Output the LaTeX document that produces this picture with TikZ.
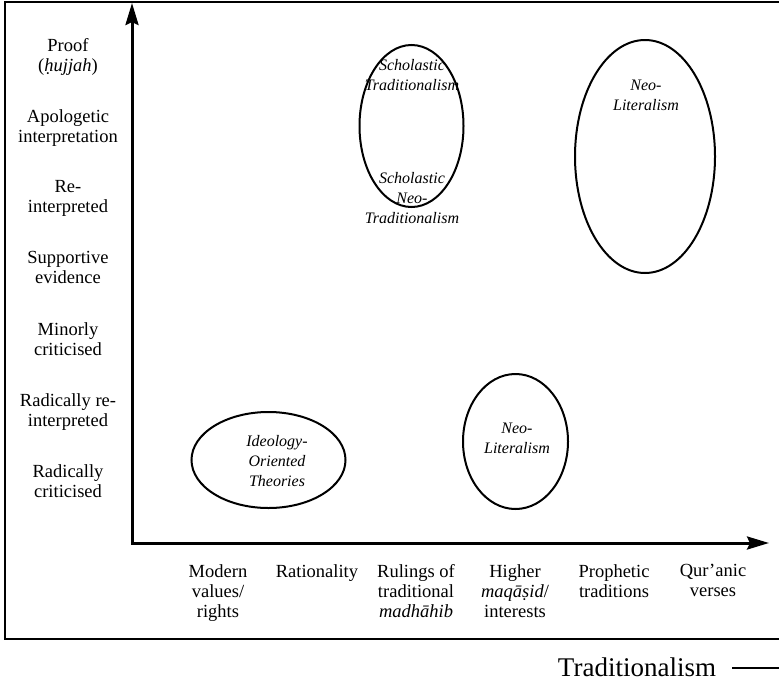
\documentclass[tikz,border=0pt]{standalone}
\usepackage{fontspec}
\setmainfont{Liberation Serif}
\usetikzlibrary{arrows.meta}

\begin{document}
\begin{tikzpicture}[x=1pt, y=-1pt,
    lab/.style={align=center, anchor=north, inner sep=0pt, font=\fontsize{18.5}{20}\selectfont},
    ovallab/.style={align=center, anchor=north, inner sep=0pt, font=\fontsize{16}{20}\selectfont\itshape},
    oval/.style={line width=2pt},
    axis/.style={line width=3pt, {Stealth[length=22pt,width=13pt,inset=3pt]}-{Stealth[length=22pt,width=13pt,inset=3pt]}}]
	\useasboundingbox (0,0) rectangle (779,683);
	% Rahmen
	\draw[line width=2.5pt] (779,2) -- (5,2) -- (5,639) -- (779,639);
	
	% Achsen
	\coordinate (O) at (132,543);
	\coordinate (ytip) at (132,3);
	\coordinate (xtip) at (769,543);
	\draw[axis] (ytip) -- (O) -- (xtip);
	
	% y-Beschriftung
	\foreach \lab [count=\i from 0] in {{Proof\\(\textit{\d{h}ujjah})}, {Apologetic\\interpretation}, {Re-\\interpreted}, {Supportive\\evidence}, {Minorly\\criticised}, {Radically re-\\interpreted}, {Radically\\criticised}}
		\node[lab] (y\i) at (68,38+71*\i) {\lab};
	
	% x-Beschriftung
	\foreach \lab [count=\i from 0] in {{Modern\\values/\\rights}, {Rationality}, {Rulings of\\traditional\\\textit{madh\=ahib}}, {Higher\\\textit{maq\=a\d{s}id}/\\interests}, {Prophetic\\traditions}, {Qur'anic\\verses}}
		\node[lab] (x\i) at (218+99*\i,564) {\lab};
	
	% Ellipsen
	\coordinate (schol) at (411.5,126);
	\coordinate (neolitA) at (645,156.5);
	\coordinate (neolitB) at (515.5,441.5);
	\coordinate (ideo) at (268.5,460);
	\draw[oval] (schol) ellipse [x radius=52pt, y radius=81pt];
	\draw[oval] (neolitA) ellipse [x radius=70pt, y radius=116.5pt];
	\draw[oval] (neolitB) ellipse [x radius=52.5pt, y radius=67.5pt];
	\draw[oval] (ideo) ellipse [x radius=77pt, y radius=48pt];
	
	\node[ovallab] (scholtrad) at (412,59) {Scholastic\\Traditionalism};
	\node[ovallab] (scholneo) at (412,172) {Scholastic\\Neo-\\Traditionalism};
	\node[ovallab] (neolitAlab) at (646,80) {Neo-\\Literalism};
	\node[ovallab] (neolitBlab) at (517,423) {Neo-\\Literalism};
	\node[ovallab] (ideolab) at (277,435) {Ideology-\\Oriented\\Theories};
	
	% Legende
	\node[inner sep=0pt, font=\fontsize{27}{30}\selectfont] (trad) at (637,667) {Traditionalism};
	\coordinate (tradend) at (779,668);
	\draw[line width=2pt] ([xshift=16pt,yshift=-1pt]trad.east) -- (tradend);
\end{tikzpicture}
\end{document}
